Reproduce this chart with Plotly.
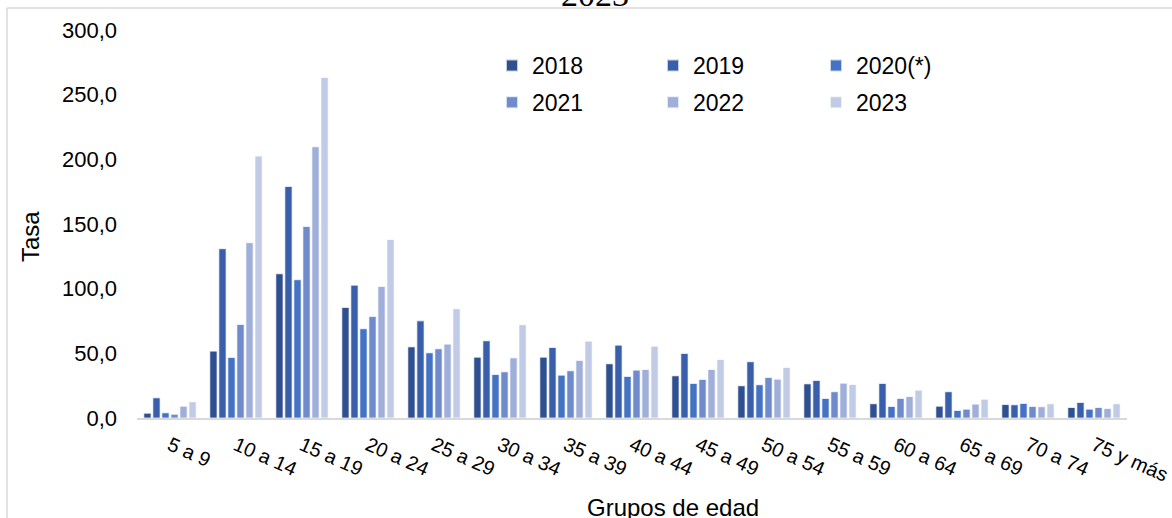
import plotly.graph_objects as go

categories = ["5 a 9", "10 a 14", "15 a 19", "20 a 24", "25 a 29", "30 a 34", "35 a 39",
              "40 a 44", "45 a 49", "50 a 54", "55 a 59", "60 a 64", "65 a 69", "70 a 74", "75 y más"]
series_names = ["2018", "2019", "2020(*)", "2021", "2022", "2023"]
t2018 = [3.7, 51.7, 111.5, 85.5, 55.0, 47.0, 47.0, 41.9, 32.6, 24.9, 26.4, 11.0, 9.1, 10.4, 8.1]
t2019 = [15.6, 130.9, 179.0, 102.7, 75.1, 59.7, 54.5, 56.3, 49.9, 43.5, 29.0, 26.7, 20.3, 10.2, 12.0]
t2020 = [4.0, 46.8, 106.9, 69.0, 50.4, 33.6, 33.1, 32.1, 26.7, 25.7, 15.1, 8.9, 5.8, 11.2, 6.8]
t2021 = [2.9, 72.3, 148.1, 78.5, 53.5, 35.7, 36.5, 37.0, 29.8, 31.3, 20.3, 15.1, 6.8, 8.9, 8.1]
t2022 = [9.1, 135.5, 209.7, 101.7, 57.1, 46.5, 44.5, 37.5, 37.5, 30.0, 26.9, 16.6, 10.7, 8.7, 7.3]
t2023 = [12.5, 202.5, 263.3, 138.0, 84.4, 72.1, 59.4, 55.5, 45.2, 39.1, 25.9, 21.5, 14.5, 11.0, 11.0]
y_tickvals = [0, 50, 100, 150, 200, 250, 300]
y_ticktext = ["0,0", "50,0", "100,0", "150,0", "200,0", "250,0", "300,0"]
colors = ["#2F5090", "#3A5FAA", "#4472C4", "#6F8BCC", "#A0AEDA", "#C2CBE6"]
legend_ids = ["legend", "legend2", "legend3", "legend", "legend2", "legend3"]

FONT = "Liberation Sans"
W, H = 1172, 518
L, R, T, B = 137, 45, 30, 100
pw, ph = W - L - R, H - T - B


def px_x(x):
    return (x - L) / pw


def px_y(y):
    return (H - B - y) / ph


fig = go.Figure()
for i, (name, vals, col) in enumerate(zip(series_names, [t2018, t2019, t2020, t2021, t2022, t2023], colors)):
    fig.add_trace(go.Bar(x=categories, y=vals, name=name, legend=legend_ids[i], legendgroup=name,
                         marker=dict(color=col, line=dict(color="rgba(255,255,255,0.7)", width=1))))


def leg(xpx):
    return dict(orientation="v", x=px_x(xpx), y=px_y(44), xanchor="left", yanchor="top",
                font=dict(size=23, family=FONT), bgcolor="rgba(0,0,0,0)",
                tracegroupgap=4, itemsizing="constant")


fig.update_layout(
    width=W, height=H,
    margin=dict(l=L, r=R, t=T, b=B, autoexpand=False),
    paper_bgcolor="white", plot_bgcolor="white",
    barmode="group", bargap=0.18, bargroupgap=0.2,
    font=dict(family=FONT, size=22, color="#000000"),
    showlegend=True,
    legend=leg(492), legend2=leg(653), legend3=leg(816),
    xaxis=dict(showline=True, linecolor="#D9D9D9", linewidth=2, ticks="", showgrid=False,
               tickangle=24, tickfont=dict(size=20, family=FONT), ticklabelstandoff=6,
               automargin=False),
    yaxis=dict(range=[0, 300], tickvals=y_tickvals, ticktext=y_ticktext, showgrid=False,
               zeroline=False, showline=False, ticks="", tickfont=dict(size=22, family=FONT),
               ticklabelstandoff=19, automargin=False),
    annotations=[
        dict(text="Grupos de edad", xref="paper", yref="paper", x=px_x(673), y=px_y(507),
             xanchor="center", yanchor="middle", showarrow=False, font=dict(size=24, family=FONT)),
        dict(text="Tasa", xref="paper", yref="paper", x=px_x(30), y=px_y(237), textangle=-90,
             xanchor="center", yanchor="middle", showarrow=False, font=dict(size=24, family=FONT)),
        dict(text="2023", xref="paper", yref="paper", x=px_x(595), y=px_y(15),
             xanchor="center", yanchor="bottom", showarrow=False,
             font=dict(size=34, family="Liberation Serif")),
    ],
    shapes=[
        dict(type="line", xref="paper", yref="paper", x0=px_x(7), x1=px_x(7), y0=px_y(8), y1=px_y(530),
             line=dict(color="#D9D9D9", width=1.5)),
        dict(type="line", xref="paper", yref="paper", x0=px_x(7), x1=px_x(1180), y0=px_y(8), y1=px_y(8),
             line=dict(color="#D9D9D9", width=1.5)),
    ],
)
fig.write_html("out.html", config={"displayModeBar": False},
               post_script="document.body.style.margin='0px';document.body.style.overflow='hidden';")
